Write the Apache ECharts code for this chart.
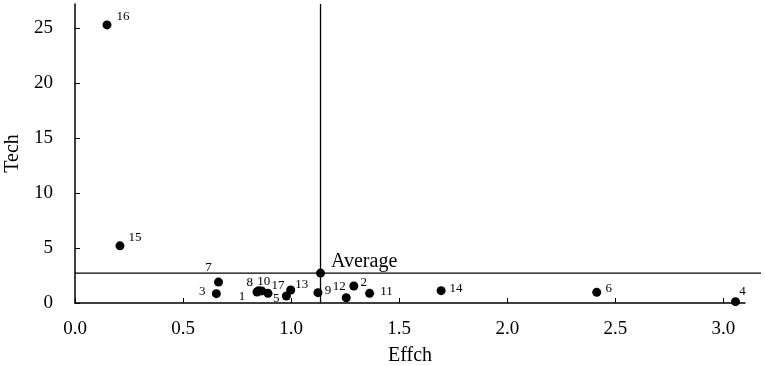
<!DOCTYPE html>
<html>
<head>
<meta charset="utf-8">
<title>Effch - Tech</title>
<script src="https://cdn.jsdelivr.net/npm/echarts@6/dist/echarts.min.js"></script>
<style>
    html,body{margin:0;padding:0;background:#fff;}
    #chart{width:765px;height:366px;}
</style>
</head>
<body>
<div id="chart"></div>
<script>
//---点的名称 / Effch / Tech
var pointNames = ["16","15","7","3","1","8","10","17","5","13","9","12","2","11","14","6","4"];
var effchVals  = [0.148,0.208,0.664,0.654,0.842,0.85,0.864,0.893,0.978,0.998,1.124,1.255,1.29,1.363,1.694,2.414,3.056];
var techVals   = [25.3,5.2,1.9,0.85,1.0,1.12,1.1,0.88,0.64,1.18,0.94,0.48,1.55,0.88,1.12,0.97,0.12];

//---平均值
var avgEffch = 1.136;
var avgTech = 2.72;

//---刻度
var xTicks = [0,0.5,1.0,1.5,2.0,2.5,3.0];
var yTicks = [0,5,10,15,20,25];

//---标签偏移（样式，不是数据）
var labelOffset = {
    "16":[16,-8], "15":[15,-8], "7":[-10,-15], "3":[-14,-2], "1":[-15,5],
    "8":[-9,-8], "10":[2,-9], "17":[10,-8], "5":[-10,3], "13":[11,-5],
    "9":[10,-2], "12":[-7,-11], "2":[10,-3], "11":[17,-2], "14":[15,-2],
    "6":[12,-4], "4":[7,-10]
};

var serif = "'Liberation Serif','DejaVu Serif',serif";

//---主坐标系 x 轴 0~3.1，宽 670px；平均横线 延伸到 761px，用第二个坐标系（同比例）
var xMax = 3.1;
var plotLeft = 75, plotRight = 20, lineRight = 4;
var xMax2 = xMax * (765 - plotLeft - lineRight) / (765 - plotLeft - plotRight);

var pts = [];
for(var i = 0;i < pointNames.length;i++){
    pts.push({
        value:[effchVals[i],techVals[i]],
        name:pointNames[i],
        label:{offset:labelOffset[pointNames[i]]}
    });
}

var myChart = echarts.init(document.getElementById("chart"));
var option = {
    animation:false,
    backgroundColor:"#fff",
    grid:[
        {left:plotLeft,right:plotRight,top:4,bottom:63,outerBoundsMode:"none",containLabel:false},
        {left:plotLeft,right:lineRight,top:4,bottom:63,outerBoundsMode:"none",containLabel:false}
    ],
    xAxis:[{
        type:"value",
        gridIndex:0,
        min:0,
        max:xMax,
        interval:0.5,
        name:"Effch",
        nameLocation:"middle",
        nameGap:43,
        nameTextStyle:{fontFamily:serif,fontSize:20,color:"#000"},
        splitLine:{show:false},
        axisLine:{show:true,lineStyle:{color:"#000",width:1.5}},
        axisTick:{show:true,inside:true,length:5,customValues:xTicks,lineStyle:{color:"#000"}},
        axisLabel:{
            customValues:xTicks,
            margin:17,
            fontFamily:serif,fontSize:19,color:"#000",
            formatter:function(v){return v.toFixed(1);}
        }
    },{
        type:"value",
        gridIndex:1,
        min:0,
        max:xMax2,
        show:false
    }],
    yAxis:[{
        type:"value",
        gridIndex:0,
        min:0,
        max:27.2,
        interval:5,
        name:"Tech",
        nameLocation:"middle",
        nameGap:52,
        nameTextStyle:{fontFamily:serif,fontSize:20,color:"#000"},
        splitLine:{show:false},
        axisLine:{show:true,lineStyle:{color:"#000",width:1.5}},
        axisTick:{show:true,inside:true,length:5,customValues:yTicks,lineStyle:{color:"#000"}},
        axisLabel:{
            customValues:yTicks,
            margin:22,
            fontFamily:serif,fontSize:19,color:"#000"
        }
    },{
        type:"value",
        gridIndex:1,
        min:0,
        max:27.2,
        show:false
    }],
    series:[
        {//----平均值 横线
            type:"line",
            xAxisIndex:1,
            yAxisIndex:1,
            data:[[0,avgTech],[xMax2,avgTech]],
            symbol:"none",
            silent:true,
            lineStyle:{color:"#000",width:1.3}
        },
        {//----平均值 竖线
            type:"line",
            data:[[avgEffch,0],[avgEffch,27.2]],
            symbol:"none",
            silent:true,
            lineStyle:{color:"#000",width:1.3}
        },
        {//----各点
            type:"scatter",
            data:pts,
            symbolSize:9,
            itemStyle:{color:"#000",opacity:1},
            label:{
                show:true,
                position:"inside",
                formatter:"{b}",
                fontFamily:serif,
                fontSize:13,
                color:"#000"
            }
        },
        {//----平均点
            type:"scatter",
            data:[{value:[avgEffch,avgTech],name:"Average"}],
            symbolSize:9,
            itemStyle:{color:"#000",opacity:1},
            label:{
                show:true,
                position:"right",
                distance:6,
                offset:[0,-11],
                formatter:"{b}",
                fontFamily:serif,
                fontSize:20,
                color:"#000"
            }
        }
    ]
};
myChart.setOption(option);
</script>
</body>
</html>
